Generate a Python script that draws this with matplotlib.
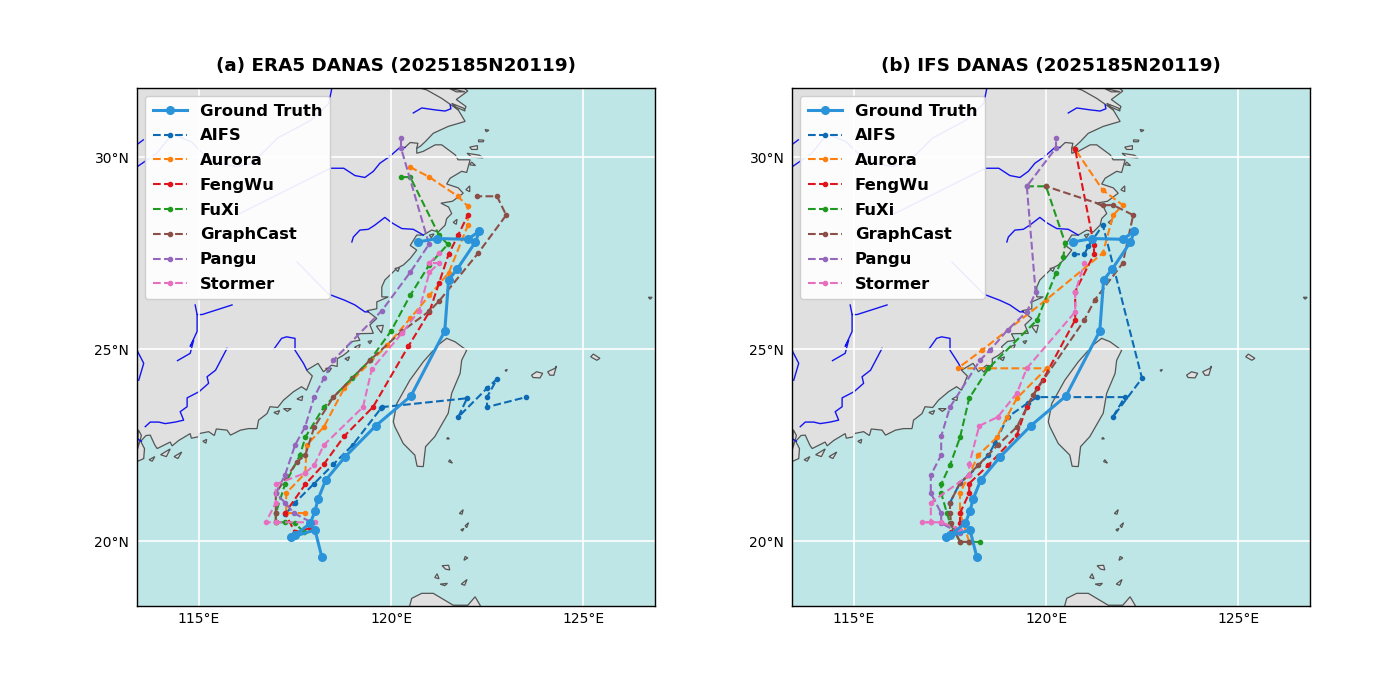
import matplotlib
matplotlib.use('Agg')
import matplotlib.pyplot as plt
from matplotlib.patches import Polygon

truth = [(118.2,19.58),(118.02,20.29),(117.4,20.1),(117.5,20.15),(117.9,20.47),(118.02,20.78),(118.1,21.09),(118.3,21.59),
         (118.8,22.19),(119.6,23.0),(120.52,23.78),(121.4,25.47),(121.5,26.8),(121.72,27.08),(122.2,27.79),(122.3,28.07),
         (122.0,27.86),(121.2,27.88),(120.7,27.79)]

# ERA5 panel
a_aifs = [(117.25,20.7),(117.5,21.0),(118.0,21.5),(118.5,22.0),(119.0,22.5),(119.74,23.46),(119.77,23.49),(121.98,23.72),
          (121.75,23.23),(122.5,23.98),(122.76,24.22),(122.5,23.75),(122.5,23.49),(123.52,23.75)]
a_aurora = [(117.77,20.73),(117.27,20.73),(117.27,21.25),(117.77,21.77),(117.8,22.5),(118.25,22.97),(118.78,23.98),
            (119.9,25.1),(120.5,25.8),(121.0,26.4),(121.5,26.98),(122.0,28.22),(122.0,28.72),(121.74,28.98),(121.0,29.48),(120.5,29.74)]
a_fengwu = [(117.9,20.34),(117.5,20.23),(117.24,20.73),(117.77,21.48),(118.25,22.0),(118.78,22.73),(119.53,23.49),
            (120.45,25.07),(121.0,25.97),(121.25,26.72),(121.5,27.47),(121.75,27.97),(122.0,28.49)]
a_fuxi = [(117.73,20.23),(117.5,20.47),(117.24,20.49),(117.0,20.49),(117.0,20.73),(117.24,21.48),(117.63,22.24),(117.77,22.71),
          (118.25,23.49),(118.98,24.24),(119.45,24.71),(120.0,25.47),(120.5,26.4),(121.0,27.2),(121.48,27.73),(121.25,27.97),(120.5,29.48),(120.26,29.48)]
a_graphcast = [(117.0,20.49),(117.0,20.73),(117.0,21.25),(117.55,22.06),(117.77,22.24),(118.0,22.97),(118.5,23.75),(119.45,24.71),
               (120.29,25.47),(121.0,25.99),(121.25,26.25),(122.27,27.5),(123.0,28.49),(122.76,28.98),(122.24,28.98)]
a_pangu = [(117.9,20.5),(117.47,20.73),(117.24,21.0),(117.0,21.25),(117.24,21.72),(117.5,22.5),(117.76,22.97),(118.0,23.75),
           (118.25,24.24),(118.5,24.71),(119.76,26.0),(120.5,27.0),(120.99,27.73),(120.26,30.24),(120.26,30.5)]
a_stormer = [(118.02,20.49),(117.0,20.49),(116.74,20.49),(117.0,21.0),(117.0,21.48),(117.76,21.77),(118.0,21.98),(118.25,22.5),
             (119.27,23.49),(119.5,24.48),(120.29,25.42),(120.73,26.0),(121.0,27.0),(121.25,27.24),(121.0,27.24),(121.25,27.5)]

# IFS panel
b_aifs = [(117.5,21.0),(117.76,21.52),(118.0,21.72),(118.5,22.24),(118.67,22.55),(119.0,23.23),(119.53,23.6),(119.77,23.75),
          (122.05,23.75),(121.74,23.23),(122.5,24.24),(121.48,28.23),(121.1,27.68),(121.0,27.47),(120.73,27.47)]
b_aurora = [(118.0,19.98),(117.76,20.73),(117.76,21.25),(118.24,22.24),(118.72,22.7),(118.98,23.23),(119.24,23.72),(120.02,24.5),
            (117.7,24.5),(118.33,24.97),(120.0,26.28),(121.48,27.5),(121.75,28.49),(122.0,28.75),(121.48,29.14),(120.76,30.2)]
b_fengwu = [(117.53,20.23),(117.76,20.47),(117.76,20.73),(118.0,21.25),(118.0,21.5),(118.5,21.98),(119.24,22.76),(119.5,23.5),
            (119.77,23.98),(119.92,24.2),(120.76,25.76),(120.76,26.5),(121.25,27.47),(121.25,27.7),(120.76,30.2)]
b_fuxi = [(118.28,19.98),(118.0,19.98),(117.76,19.98),(117.5,20.47),(117.42,20.73),(117.27,21.25),(117.27,21.48),(117.5,21.98),
          (117.76,22.7),(118.0,23.72),(118.5,24.5),(119.77,25.76),(120.26,26.98),(120.45,27.4),(120.5,27.76),(120.0,29.24),(119.5,29.24)]
b_graphcast = [(118.0,19.98),(117.76,19.98),(117.53,20.47),(117.5,20.73),(117.5,21.0),(117.76,21.51),(118.24,21.98),(118.74,22.5),
               (119.24,22.97),(119.66,23.8),(121.0,25.76),(121.27,26.28),(122.0,27.24),(122.27,28.49),(121.75,28.75),(121.48,28.75),(120.0,29.24)]
b_pangu = [(117.76,20.2),(117.27,20.47),(117.27,20.73),(117.0,21.25),(117.0,21.72),(117.27,22.24),(117.27,22.73),(117.5,23.49),
           (118.28,24.71),(118.54,24.97),(119.0,25.5),(119.5,25.97),(119.73,26.48),(119.5,29.24),(120.26,30.24),(120.26,30.5)]
b_stormer = [(117.76,20.3),(117.27,20.49),(117.0,20.49),(116.77,20.49),(117.0,20.49),(117.0,21.0),(118.0,21.72),(118.0,22.0),(118.26,23.0),
             (118.74,23.23),(119.24,23.85),(119.5,24.5),(120.76,25.97),(120.76,26.48),(121.0,27.24)]

model_names = ['AIFS', 'Aurora', 'FengWu', 'FuXi', 'GraphCast', 'Pangu', 'Stormer']
model_colors = ['#0d6ab4', '#ff7f0e', '#e0141c', '#1f9a20', '#8c4f48', '#9467bd', '#e86fc0']
era5_tracks = [a_aifs, a_aurora, a_fengwu, a_fuxi, a_graphcast, a_pangu, a_stormer]
ifs_tracks = [b_aifs, b_aurora, b_fengwu, b_fuxi, b_graphcast, b_pangu, b_stormer]

# land
mainland = [(112,22.07),(113.385,22.07),(113.56,22.15),(113.58,22.41),(113.48,22.6),(113.62,22.75),(113.73,22.76),(113.85,22.5),
            (113.91,22.41),(114.25,22.58),(114.3,22.48),(114.47,22.62),(114.77,22.8),(114.8,22.68),(115.0,22.72),(115.0,22.8),
            (115.25,22.85),(115.4,22.75),(115.45,22.92),(115.73,22.89),(115.82,22.76),(116.08,22.89),(116.29,22.93),(116.51,22.93),
            (116.55,23.15),(116.77,23.32),(116.85,23.5),(117.05,23.48),(117.2,23.67),(117.46,23.89),(117.67,24.02),(117.8,23.93),
            (117.89,24.15),(117.95,24.3),(117.8,24.45),(118.1,24.63),(118.24,24.41),(118.45,24.58),(118.6,24.55),(118.6,24.75),
            (118.76,24.84),(118.9,24.95),(118.84,25.06),(119.0,25.2),(119.19,25.23),(119.1,25.4),(119.54,25.41),(119.45,25.63),
            (119.63,25.8),(119.37,26.0),(119.63,26.05),(119.63,26.23),(119.93,26.36),(119.76,26.36),(119.76,26.62),(119.84,26.8),
            (120.15,27.1),(120.32,27.19),(120.5,27.36),(120.67,27.58),(120.5,27.7),(120.67,27.97),(120.84,27.97),(121.06,28.1),
            (121.23,28.05),(121.41,28.23),(121.45,28.4),(121.58,28.53),(121.5,28.7),(121.3,28.8),(121.6,28.85),(121.88,29.06),
            (121.75,29.2),(121.45,29.3),(121.54,29.45),(121.84,29.63),(121.97,29.6),(122.06,29.93),(121.75,29.93),(121.67,30.06),
            (121.32,30.32),(121.15,30.32),(120.84,30.15),(120.67,30.1),(120.67,30.23),(120.76,30.28),(120.9,30.41),(121.1,30.62),
            (121.49,30.8),(121.93,30.93),(121.75,31.23),(121.6,31.36),(121.93,31.25),(121.95,31.32),(121.7,31.5),(122.0,31.72),
            (121.9,31.8),(121.9,32.5),(112,32.5)]
taiwan = [(121.45,25.28),(121.67,25.19),(121.97,24.97),(121.84,24.71),(121.8,24.37),(121.58,23.85),(121.49,23.33),(121.14,22.72),
          (120.9,22.46),(120.84,21.94),(120.68,21.95),(120.62,22.24),(120.32,22.54),(120.1,22.98),(120.06,23.11),(120.15,23.58),
          (120.49,24.19),(120.84,24.67),(121.23,25.11)]
luzon = [(120.4,18.0),(120.54,18.51),(120.8,18.64),(121.1,18.64),(121.62,18.33),(122.0,18.33),(122.19,18.55),(122.32,18.33),(122.4,18.0)]
islands = [[(123.66,24.32),(123.79,24.41),(123.95,24.37),(123.88,24.25),(123.7,24.26)],
           [(124.08,24.41),(124.27,24.5),(124.31,24.56),(124.24,24.32),(124.14,24.32)],
           [(125.2,24.8),(125.36,24.71),(125.44,24.76),(125.27,24.87)],
           [(121.78,20.72),(121.88,20.82),(121.85,20.7)],
           [(121.9,19.5),(122.0,19.56),(121.93,19.6)],
           [(121.33,19.36),(121.5,19.37),(121.53,19.25),(121.42,19.27)],
           [(121.14,19.05),(121.25,19.02),(121.2,19.15)],
           [(121.28,18.88),(121.47,18.9),(121.4,18.84)],
           [(121.83,18.88),(121.98,19.0),(121.92,18.85)],
           [(121.5,22.07),(121.6,22.03),(121.53,22.12)],
           [(121.45,22.66),(121.52,22.66),(121.48,22.7)],
           [(121.93,20.4),(122.02,20.48),(121.97,20.35)],
           [(121.82,20.3),(121.9,20.33),(121.86,20.26)],
           [(122.97,24.45),(123.03,24.47),(123.0,24.42)],
           [(122.05,30.26),(122.25,30.3),(122.25,30.2),(122.1,30.2)],
           [(122.28,30.45),(122.42,30.44),(122.4,30.4),(122.28,30.4)],
           [(121.98,30.1),(122.3,30.05),(122.4,29.98),(122.1,30.0)],
           [(122.1,29.87),(122.2,29.78),(122.05,29.8)],
           [(122.45,30.72),(122.55,30.7),(122.48,30.66)],
           [(121.58,31.4),(121.9,31.27),(121.93,31.2),(121.7,31.3)],
           [(121.5,31.8),(121.93,31.7),(121.7,31.7)],
           [(119.62,25.6),(119.8,25.62),(119.75,25.42)],
           [(119.4,25.2),(119.5,25.22),(119.45,25.14)],
           [(118.3,24.5),(118.45,24.5),(118.38,24.4)],
           [(118.8,24.75),(118.92,24.8),(118.88,24.7)],
           [(119.05,25.05),(119.2,25.12),(119.15,25.0)],
           [(117.2,23.45),(117.4,23.45),(117.3,23.38)],
           [(117.55,23.7),(117.7,23.78),(117.68,23.66)],
           [(116.95,23.35),(117.1,23.4),(117.05,23.3)],
           [(115.1,22.6),(115.2,22.65),(115.18,22.55)],
           [(114.35,22.2),(114.55,22.32),(114.45,22.15)],
           [(114.0,22.25),(114.25,22.4),(114.15,22.2)],
           [(113.7,22.12),(113.85,22.2),(113.78,22.08)],
           [(113.4,22.4),(113.5,22.75),(113.42,22.9)],
           [(120.1,27.1),(120.22,27.12),(120.18,27.02)],
           [(121.0,27.97),(121.12,28.0),(121.05,27.9)],
           [(121.62,28.3),(121.72,28.38),(121.7,28.25)],
           [(121.95,29.15),(122.05,29.25),(122.05,29.1)],
           [(126.7,26.35),(126.8,26.35),(126.75,26.3)]]
estuary_1 = [(120.36,30.25),(120.5,30.38),(120.7,30.36),(120.67,30.23)]
estuary_2 = [(121.75,31.23),(121.32,31.53),(120.93,31.75),(120.75,31.8)]

# rivers
river_1 = [(118.46,31.8),(118.38,31.4),(117.9,30.95),(117.05,30.5),(116.4,29.85),(116.0,29.75),(115.3,29.9),(114.8,30.4),(114.3,30.6),(113.9,30.1),(113.39,29.75)]
river_2 = [(113.39,30.33),(113.55,30.45)]
river_3 = [(116.0,28.5),(117.0,29.0),(118.42,29.71),(118.77,29.71),(119.06,29.52),(119.32,29.47),(119.54,29.63),(119.71,29.84),(119.97,30.02),(120.23,30.25),(120.36,30.25)]
river_4 = [(118.98,27.79),(119.02,27.92),(119.19,28.1),(119.41,28.12),(119.58,28.23),(119.84,28.43),(120.02,28.29),(120.28,28.14),(120.58,28.12),(120.84,27.97)]
river_5 = [(117.55,27.27),(118.38,26.43),(118.8,26.27),(119.06,26.15),(119.32,25.97),(119.41,25.97)]
river_6 = [(115.86,26.15),(115.08,25.9),(114.95,25.9),(114.9,26.15)]
river_7 = [(114.95,25.9),(114.95,25.46),(114.77,25.07),(114.86,25.23),(114.77,24.89),(114.44,24.7)]
river_8 = [(115.73,25.02),(115.43,24.45),(115.21,24.28),(115.25,24.11),(115.0,23.89),(114.69,23.73),(114.69,23.5),(114.51,23.37),(114.6,23.15),(114.38,23.1),(114.12,23.06),(113.95,23.1),(113.73,23.1),(113.6,22.98)]
river_9 = [(113.385,24.97),(113.56,24.63),(113.43,24.19)]
river_10 = [(116.95,25.0),(117.15,25.28),(117.28,25.32),(117.5,25.28),(117.5,24.97),(117.72,24.63),(117.8,24.47)]
river_11 = [(120.58,31.15),(120.8,31.28),(121.15,31.23),(121.41,31.2),(121.56,31.26),(121.54,31.36)]
river_12 = [(113.385,22.67),(113.5,22.6)]
rivers = [river_1, river_2, river_3, river_4, river_5, river_6, river_7, river_8, river_9, river_10, river_11, river_12]

lon_ticks = [115, 120, 125]
lat_ticks = [20, 25, 30]
titles = ['(a) ERA5 DANAS (2025185N20119)', '(b) IFS DANAS (2025185N20119)']


def draw_panel(ax, tracks, title):
    ax.set_facecolor('#bee6e6')
    for poly in [mainland, taiwan, luzon] + islands:
        ax.add_patch(Polygon(poly, closed=True, fc='#e0e0e0', ec='#555555', lw=0.9, zorder=1))
    for est in [estuary_1, estuary_2]:
        ax.plot([p[0] for p in est], [p[1] for p in est], color='#555555', lw=0.9, zorder=1.5)
    for r in rivers:
        ax.plot([p[0] for p in r], [p[1] for p in r], color='#1414f0', lw=1, zorder=2)
    ax.plot([p[0] for p in truth], [p[1] for p in truth], '-o', color='#2b93d9', lw=2.2, ms=5.5, label='Ground Truth', zorder=6)
    for name, c, t in zip(model_names, model_colors, tracks):
        ax.plot([p[0] for p in t], [p[1] for p in t], '--o', color=c, lw=1.5, ms=3, label=name, zorder=5)
    ax.set_xlim(113.385, 126.875)
    ax.set_ylim(18.31, 31.8)
    ax.set_xticks(lon_ticks)
    ax.set_yticks(lat_ticks)
    ax.set_xticklabels([f'{v}°E' for v in lon_ticks])
    ax.set_yticklabels([f'{v}°N' for v in lat_ticks])
    ax.tick_params(axis='x', length=0, labelsize=10, pad=4)
    ax.tick_params(axis='y', length=0, labelsize=10, pad=5.5)
    ax.grid(color='white', lw=1.2, zorder=3)
    ax.set_axisbelow(False)
    for s in ax.spines.values():
        s.set_linewidth(1)
        s.set_zorder(10)
    ax.set_title(title, fontsize=13.25, fontweight='bold', pad=12.5)
    leg = ax.legend(loc='upper left', prop={'weight': 'bold', 'size': 11.75}, framealpha=0.92, borderaxespad=0.5, labelspacing=0.6, handlelength=2.1, borderpad=0.45)
    leg.set_zorder(20)


fig = plt.figure(figsize=(14, 7), dpi=100)
W, H = 1400, 700
ax1 = fig.add_axes([137/W, 94/H, 518/W, 518/H])
ax2 = fig.add_axes([792/W, 94/H, 518/W, 518/H])
draw_panel(ax1, era5_tracks, titles[0])
draw_panel(ax2, ifs_tracks, titles[1])
fig.savefig('out.png', dpi=100)
